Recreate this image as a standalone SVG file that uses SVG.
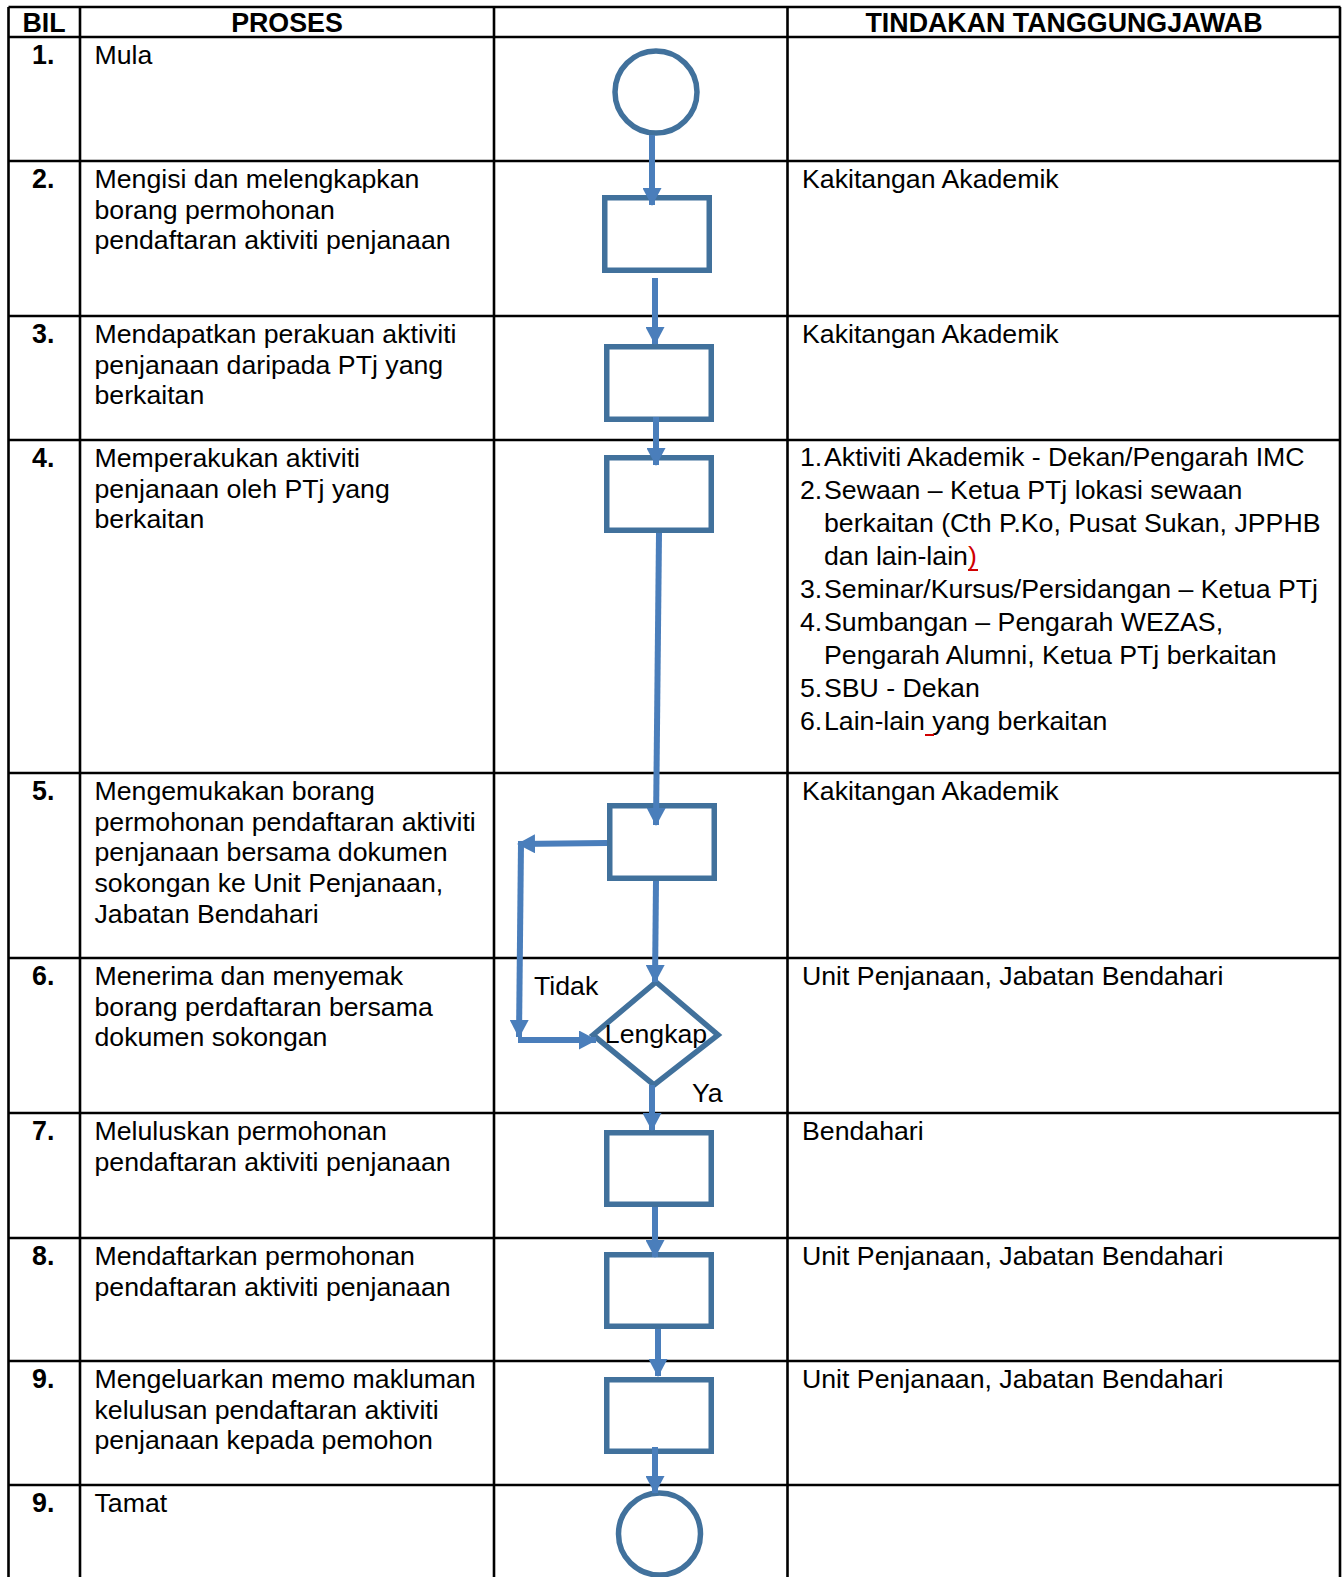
<svg xmlns="http://www.w3.org/2000/svg" width="1342" height="1577" viewBox="0 0 1342 1577">
<style>
.t{font-family:"Liberation Sans",Arial,sans-serif;font-size:26.7px;fill:#000}
.b{font-family:"Liberation Sans",Arial,sans-serif;font-size:26.8px;font-weight:bold;fill:#000}
.grid{stroke:#000;stroke-width:2.6;fill:none}
.shape{fill:#fff;stroke:#41719C;stroke-width:5.5}
.con{stroke:#4A7EBB;stroke-width:6;fill:none}
</style>
<defs>
<marker id="ah" markerUnits="userSpaceOnUse" markerWidth="19" markerHeight="19" refX="17" refY="9.5" orient="auto">
<path d="M0,0 L18,9.5 L0,19 z" fill="#4A7EBB"/>
</marker>
</defs>
<rect width="1342" height="1577" fill="#fff"/>
<g id="table" class="grid">
<path d="M8.5,7 H1340.5 M8.5,37 H1340.5 M8.5,161 H1340.5 M8.5,316 H1340.5 M8.5,440 H1340.5 M8.5,773 H1340.5 M8.5,958 H1340.5 M8.5,1113 H1340.5 M8.5,1238 H1340.5 M8.5,1361 H1340.5 M8.5,1485 H1340.5"/>
<path d="M8.5,7 V1577 M80,7 V1577 M494,7 V1577 M787.5,7 V1577 M1340,7 V1577"/>
</g>
<g id="header">
<text class="b" x="44" y="31.5" text-anchor="middle">BIL</text>
<text class="b" x="287" y="31.5" text-anchor="middle">PROSES</text>
<text class="b" x="1064" y="31.5" text-anchor="middle">TINDAKAN TANGGUNGJAWAB</text>
</g>
<g id="numbers">
<text class="b" x="32" y="64">1.</text>
<text class="b" x="32" y="188">2.</text>
<text class="b" x="32" y="343">3.</text>
<text class="b" x="32" y="467">4.</text>
<text class="b" x="32" y="800">5.</text>
<text class="b" x="32" y="985">6.</text>
<text class="b" x="32" y="1140">7.</text>
<text class="b" x="32" y="1265">8.</text>
<text class="b" x="32" y="1388">9.</text>
<text class="b" x="32" y="1512">9.</text>
</g>
<g id="proses">
<text class="t" x="94.5" y="64">Mula</text>
<text class="t" x="94.5" y="188">Mengisi dan melengkapkan<tspan x="94.5" dy="30.7">borang permohonan</tspan><tspan x="94.5" dy="30.7">pendaftaran aktiviti penjanaan</tspan></text>
<text class="t" x="94.5" y="343">Mendapatkan perakuan aktiviti<tspan x="94.5" dy="30.7">penjanaan daripada PTj yang</tspan><tspan x="94.5" dy="30.7">berkaitan</tspan></text>
<text class="t" x="94.5" y="467">Memperakukan aktiviti<tspan x="94.5" dy="30.7">penjanaan oleh PTj yang</tspan><tspan x="94.5" dy="30.7">berkaitan</tspan></text>
<text class="t" x="94.5" y="800">Mengemukakan borang<tspan x="94.5" dy="30.7">permohonan pendaftaran aktiviti</tspan><tspan x="94.5" dy="30.7">penjanaan bersama dokumen</tspan><tspan x="94.5" dy="30.7">sokongan ke Unit Penjanaan,</tspan><tspan x="94.5" dy="30.7">Jabatan Bendahari</tspan></text>
<text class="t" x="94.5" y="985">Menerima dan menyemak<tspan x="94.5" dy="30.7">borang perdaftaran bersama</tspan><tspan x="94.5" dy="30.7">dokumen sokongan</tspan></text>
<text class="t" x="94.5" y="1140">Meluluskan permohonan<tspan x="94.5" dy="30.7">pendaftaran aktiviti penjanaan</tspan></text>
<text class="t" x="94.5" y="1265">Mendaftarkan permohonan<tspan x="94.5" dy="30.7">pendaftaran aktiviti penjanaan</tspan></text>
<text class="t" x="94.5" y="1388">Mengeluarkan memo makluman<tspan x="94.5" dy="30.7">kelulusan pendaftaran aktiviti</tspan><tspan x="94.5" dy="30.7">penjanaan kepada pemohon</tspan></text>
<text class="t" x="94.5" y="1512">Tamat</text>
</g>
<g id="tindakan">
<text class="t" x="802" y="188">Kakitangan Akademik</text>
<text class="t" x="802" y="343">Kakitangan Akademik</text>
<text class="t" x="800" y="466">1.</text><text class="t" x="824" y="466">Aktiviti Akademik - Dekan/Pengarah IMC</text>
<text class="t" x="800" y="499">2.</text><text class="t" x="824" y="499">Sewaan – Ketua PTj lokasi sewaan</text>
<text class="t" x="824" y="532">berkaitan (Cth P.Ko, Pusat Sukan, JPPHB</text>
<text class="t" x="824" y="565">dan lain-lain<tspan fill="#d00000">)</tspan></text>
<text class="t" x="800" y="598">3.</text><text class="t" x="824" y="598">Seminar/Kursus/Persidangan – Ketua PTj</text>
<text class="t" x="800" y="631">4.</text><text class="t" x="824" y="631">Sumbangan – Pengarah WEZAS,</text>
<text class="t" x="824" y="664">Pengarah Alumni, Ketua PTj berkaitan</text>
<text class="t" x="800" y="697">5.</text><text class="t" x="824" y="697">SBU - Dekan</text>
<text class="t" x="800" y="730">6.</text><text class="t" x="824" y="730">Lain-lain yang berkaitan</text>
<path d="M968,570 H978 M925,735 H934" stroke="#d00000" stroke-width="1.8"/>
<text class="t" x="802" y="800">Kakitangan Akademik</text>
<text class="t" x="802" y="985">Unit Penjanaan, Jabatan Bendahari</text>
<text class="t" x="802" y="1140">Bendahari</text>
<text class="t" x="802" y="1265">Unit Penjanaan, Jabatan Bendahari</text>
<text class="t" x="802" y="1388">Unit Penjanaan, Jabatan Bendahari</text>
</g>
<g id="n1"><circle class="shape" cx="656" cy="92" r="41"/></g>
<g id="n2"><rect class="shape" x="604.75" y="197.75" width="104.5" height="72.5"/></g>
<g id="n3"><rect class="shape" x="606.75" y="346.75" width="104.5" height="72.5"/></g>
<g id="n4"><rect class="shape" x="606.75" y="457.75" width="104.5" height="72.5"/></g>
<g id="n5"><rect class="shape" x="609.75" y="805.75" width="104.5" height="72.5"/></g>
<g id="n6"><polygon class="shape" points="593,1035 656,982 718,1035 654,1085"/><text class="t" x="656" y="1043" text-anchor="middle">Lengkap</text></g>
<g id="n7"><rect class="shape" x="606.75" y="1132.75" width="104.5" height="71.5"/></g>
<g id="n8"><rect class="shape" x="606.75" y="1254.75" width="104.5" height="71.5"/></g>
<g id="n9"><rect class="shape" x="606.75" y="1379.75" width="104.5" height="71.5"/></g>
<g id="n10"><circle class="shape" cx="659.5" cy="1534" r="41"/></g>
<g id="connectors" class="con">
<line x1="652" y1="135" x2="652" y2="205" marker-end="url(#ah)"/>
<line x1="655" y1="278" x2="655" y2="344" marker-end="url(#ah)"/>
<line x1="656" y1="417" x2="656" y2="465" marker-end="url(#ah)"/>
<line x1="659" y1="533" x2="656" y2="825" marker-end="url(#ah)"/>
<line x1="656" y1="881" x2="655" y2="982" marker-end="url(#ah)"/>
<line x1="607" y1="843" x2="518" y2="844" marker-end="url(#ah)"/>
<line x1="521" y1="843" x2="519" y2="1037" marker-end="url(#ah)"/>
<line x1="518" y1="1040" x2="596" y2="1040" marker-end="url(#ah)"/>
<line x1="652" y1="1085" x2="652" y2="1130" marker-end="url(#ah)"/>
<line x1="655" y1="1207" x2="655" y2="1257" marker-end="url(#ah)"/>
<line x1="658" y1="1329" x2="658" y2="1376" marker-end="url(#ah)"/>
<line x1="655" y1="1447" x2="655" y2="1493" marker-end="url(#ah)"/>
</g>
<g id="labels">
<text class="t" x="534" y="995">Tidak</text>
<text class="t" x="692" y="1102">Ya</text>
</g>
</svg>
